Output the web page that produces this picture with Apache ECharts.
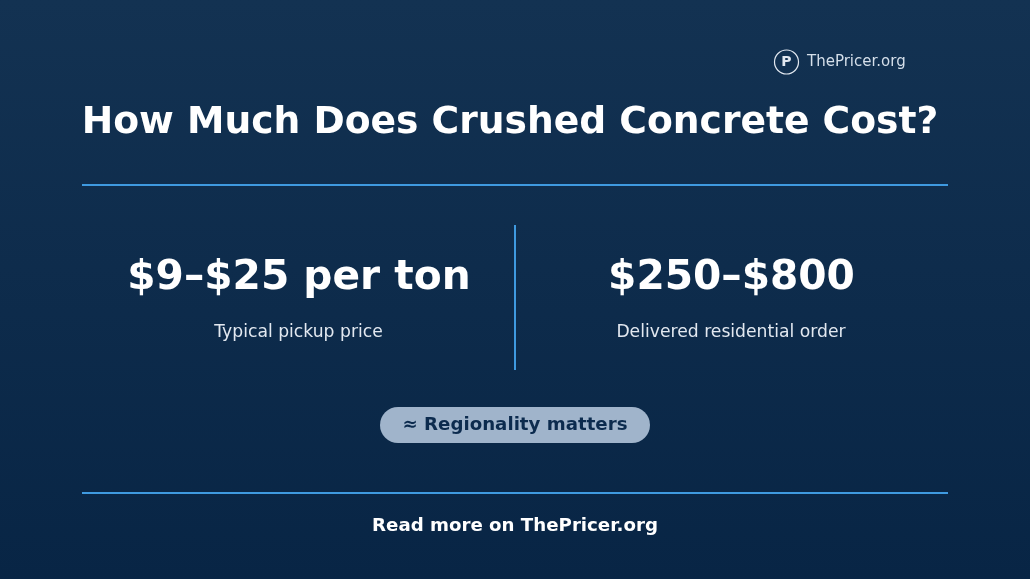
<!DOCTYPE html>
<html>
<head>
<meta charset="utf-8">
<style>
html, body { margin: 0; padding: 0; background: #0c2b4e; }
#main { width: 1030px; height: 579px; }
</style>
<script src="https://cdn.jsdelivr.net/npm/echarts@6/dist/echarts.min.js"></script>
</head>
<body>
<div id="main"></div>
<script>
const titleText = 'How Much Does Crushed Concrete Cost?';
const brandName = 'ThePricer.org';
const brandMark = 'P';
const priceValues = ['$9–$25 per ton', '$250–$800'];
const priceLabels = ['Typical pickup price', 'Delivered residential order'];
const pillText = '≈ Regionality matters';
const footerText = 'Read more on ThePricer.org';

const font = '"DejaVu Sans", sans-serif';
const lineBlue = '#3f9ae0';

function label(x, y, text, size, weight, color) {
    return {
        type: 'text',
        x: x,
        y: y,
        style: {
            text: text,
            fontFamily: font,
            fontSize: size,
            fontWeight: weight,
            fill: color,
            align: 'center',
            verticalAlign: 'middle'
        }
    };
}

function rule(x1, y1, x2, y2) {
    return {
        type: 'line',
        shape: { x1: x1, y1: y1, x2: x2, y2: y2 },
        style: { stroke: lineBlue, lineWidth: 2 }
    };
}

const chart = echarts.init(document.getElementById('main'));

chart.setOption({
    backgroundColor: {
        type: 'linear', x: 0, y: 0, x2: 0, y2: 1,
        colorStops: [
            { offset: 0, color: '#133252' },
            { offset: 1, color: '#082545' }
        ]
    },
    graphic: [
        { type: 'circle', shape: { cx: 786.5, cy: 62, r: 12 }, style: { fill: 'transparent', stroke: '#e2e8f0', lineWidth: 1.2 } },
        label(786.5, 62, brandMark, 14, 'bold', '#e2e8f0'),
        { type: 'text', x: 807, y: 62, style: { text: brandName, fontFamily: font, fontSize: 15, fill: '#d5dfea', align: 'left', verticalAlign: 'middle' } },
        label(510, 123, titleText, 37.65, 'bold', '#ffffff'),
        rule(82, 185, 948, 185),
        rule(515, 225, 515, 370),
        label(299, 278, priceValues[0], 40.7, 'bold', '#ffffff'),
        label(731.5, 278, priceValues[1], 40.7, 'bold', '#ffffff'),
        label(298.5, 332.5, priceLabels[0], 17.2, 'normal', '#e2e8f0'),
        label(731, 332.5, priceLabels[1], 17.2, 'normal', '#e2e8f0'),
        { type: 'rect', shape: { x: 380, y: 407, width: 270, height: 36, r: 18 }, style: { fill: '#a0b4cb' } },
        label(515, 425.5, pillText, 18.2, 'bold', '#0c2b4e'),
        rule(82, 493, 948, 493),
        label(515, 526, footerText, 18.2, 'bold', '#ffffff')
    ]
});

window.addEventListener('resize', () => chart.resize());
</script>
</body>
</html>
